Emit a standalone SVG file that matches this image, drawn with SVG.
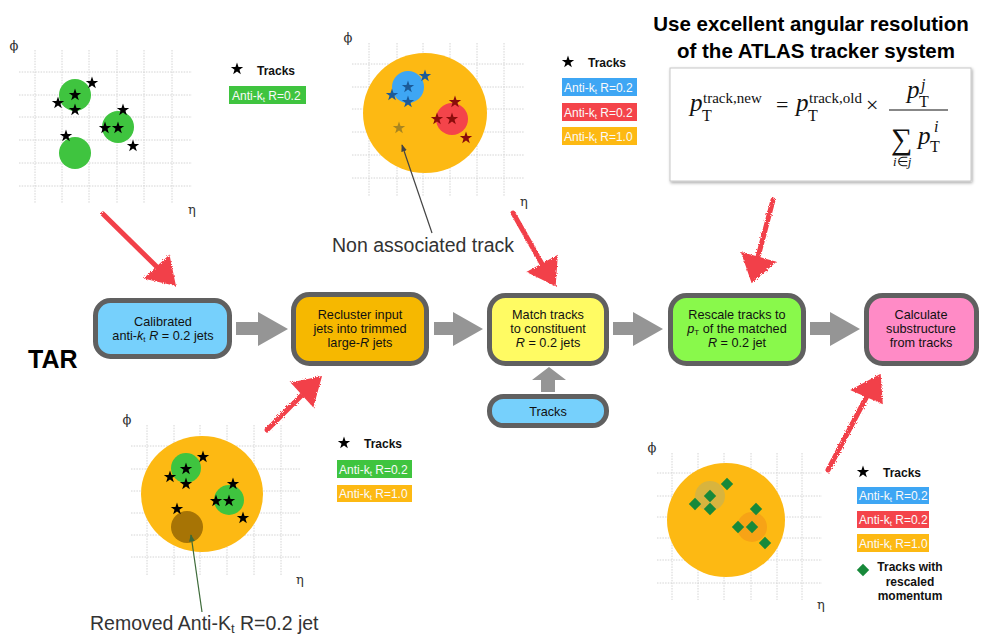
<svg xmlns="http://www.w3.org/2000/svg" width="999" height="637" viewBox="0 0 999 637">
<style>
.grid line{stroke:#d4d4d4;stroke-width:1;stroke-dasharray:1.5 1.2}
.ax{font-family:"DejaVu Serif",serif;font-size:13px;fill:#333}
.box{stroke:#606060;stroke-width:5}
.bt{font-family:"Liberation Sans",Arial,sans-serif;font-size:12.7px;fill:#111;text-anchor:middle}
.lg{font-family:"Liberation Sans",Arial,sans-serif;font-size:12px;font-weight:bold;fill:#111}
.lt{font-family:"Liberation Sans",Arial,sans-serif;font-size:12px;fill:#fafafa}
.gar{fill:#959595}
.red{fill:#f2404a;stroke:#f2404a}
.ann{font-family:"Liberation Sans",Arial,sans-serif;font-size:19.5px;fill:#333}
.fm{font-family:"Liberation Serif","Times New Roman",serif;fill:#111}
</style>
<defs>
<path id="star" d="M0,-6.5 L1.53,-2.1 L6.18,-2.01 L2.47,0.8 L3.82,5.26 L0,2.6 L-3.82,5.26 L-2.47,0.8 L-6.18,-2.01 L-1.53,-2.1Z"/>
<path id="dia" d="M0,-6.2 L6.2,0 L0,6.2 L-6.2,0Z"/>
<filter id="rough" x="-20%" y="-20%" width="140%" height="140%">
<feTurbulence type="fractalNoise" baseFrequency="0.9" numOctaves="2" seed="3"/>
<feDisplacementMap in="SourceGraphic" scale="3.5"/>
</filter>
<filter id="shadow" x="-5%" y="-5%" width="112%" height="115%">
<feDropShadow dx="1" dy="1.5" stdDeviation="1.5" flood-color="#000" flood-opacity="0.35"/>
</filter>
<marker id="ah" viewBox="0 0 10 10" refX="9" refY="5" markerWidth="6" markerHeight="6" orient="auto-start-reverse"><path d="M0,1 L10,5 L0,9Z" fill="context-stroke"/></marker>
</defs>
<rect width="999" height="637" fill="#fff"/>

<!-- Panel 1: top-left -->
<g id="panel-calibrated">
<g class="grid">
<line x1="35" y1="50" x2="35" y2="203"/><line x1="62" y1="50" x2="62" y2="203"/><line x1="89" y1="50" x2="89" y2="203"/><line x1="117" y1="50" x2="117" y2="203"/><line x1="144" y1="50" x2="144" y2="203"/><line x1="172" y1="50" x2="172" y2="203"/>
<line x1="19" y1="72" x2="192" y2="72"/><line x1="19" y1="95" x2="192" y2="95"/><line x1="19" y1="117" x2="192" y2="117"/><line x1="19" y1="140" x2="192" y2="140"/><line x1="19" y1="163" x2="192" y2="163"/><line x1="19" y1="186" x2="192" y2="186"/>
</g>
<text class="ax" x="14" y="50" text-anchor="middle">ϕ</text>
<text class="ax" x="192" y="214" text-anchor="middle">η</text>
<circle cx="75" cy="95" r="16" fill="#3fc43f"/>
<circle cx="118" cy="127" r="16" fill="#3fc43f"/>
<circle cx="75" cy="153" r="16" fill="#3fc43f"/>
<g fill="#000">
<use href="#star" x="92" y="83"/><use href="#star" x="75" y="95"/><use href="#star" x="58" y="103"/><use href="#star" x="75" y="110"/>
<use href="#star" x="123" y="110"/><use href="#star" x="105" y="128"/><use href="#star" x="118" y="128"/><use href="#star" x="133" y="146"/><use href="#star" x="66" y="136"/>
</g>
<use href="#star" x="237" y="69" fill="#000"/>
<text class="lg" x="257" y="75">Tracks</text>
<rect x="229" y="86" width="77" height="18" fill="#3fc43f"/>
<text class="lt" x="232" y="99.5">Anti-k<tspan font-size="8" dy="2">t</tspan><tspan dy="-2"> R=0.2</tspan></text>
</g>

<!-- Panel 2: top-middle -->
<g id="panel-match">
<g class="grid">
<line x1="369" y1="43" x2="369" y2="196"/><line x1="397" y1="43" x2="397" y2="196"/><line x1="423" y1="43" x2="423" y2="196"/><line x1="450" y1="43" x2="450" y2="196"/><line x1="477" y1="43" x2="477" y2="196"/><line x1="504" y1="43" x2="504" y2="196"/>
<line x1="352" y1="64" x2="524" y2="64"/><line x1="352" y1="87" x2="524" y2="87"/><line x1="352" y1="109" x2="524" y2="109"/><line x1="352" y1="132" x2="524" y2="132"/><line x1="352" y1="155" x2="524" y2="155"/><line x1="352" y1="178" x2="524" y2="178"/>
</g>
<text class="ax" x="348" y="42" text-anchor="middle">ϕ</text>
<text class="ax" x="524" y="206" text-anchor="middle">η</text>
<ellipse cx="425" cy="113" rx="62" ry="60" fill="#fdb913"/>
<circle cx="408" cy="87" r="16" fill="#3ea6f4"/>
<circle cx="452" cy="119" r="16" fill="#f4444a"/>
<g fill="#1b5a98"><use href="#star" x="425" y="76"/><use href="#star" x="408" y="87"/><use href="#star" x="392" y="95"/><use href="#star" x="408" y="102"/></g>
<g fill="#8a0c0c"><use href="#star" x="455" y="102"/><use href="#star" x="437" y="119"/><use href="#star" x="452" y="119"/><use href="#star" x="466" y="138"/></g>
<use href="#star" x="399" y="128" fill="#a88520"/>
<line x1="432" y1="233" x2="402" y2="145" stroke="#444" stroke-width="1.2" marker-end="url(#ah)"/>
<text class="ann" x="332" y="252">Non associated track</text>
<use href="#star" x="568" y="62" fill="#000"/>
<text class="lg" x="588" y="67">Tracks</text>
<rect x="562" y="78" width="75" height="18" fill="#3ea6f4"/>
<text class="lt" x="564" y="91.5">Anti-k<tspan font-size="8" dy="2">t</tspan><tspan dy="-2"> R=0.2</tspan></text>
<rect x="562" y="103" width="75" height="18" fill="#f4444a"/>
<text class="lt" x="564" y="116.5">Anti-k<tspan font-size="8" dy="2">t</tspan><tspan dy="-2"> R=0.2</tspan></text>
<rect x="562" y="127" width="75" height="18" fill="#fdb913"/>
<text class="lt" x="564" y="140.5">Anti-k<tspan font-size="8" dy="2">t</tspan><tspan dy="-2"> R=1.0</tspan></text>
</g>

<!-- Formula panel -->
<g id="panel-formula">
<text x="811" y="31" text-anchor="middle" font-family="'Liberation Sans',Arial,sans-serif" font-size="20.5" font-weight="bold" fill="#000">Use excellent angular resolution</text>
<text x="816" y="58" text-anchor="middle" font-family="'Liberation Sans',Arial,sans-serif" font-size="20.5" font-weight="bold" fill="#000">of the ATLAS tracker system</text>
<rect x="670" y="68" width="301" height="113" fill="#fff" stroke="#c8c8c8" stroke-width="1" filter="url(#shadow)"/>
<g class="fm">
<text x="690" y="111" font-size="25" font-style="italic">p</text>
<text x="702" y="121" font-size="16">T</text>
<text x="703" y="103" font-size="15">track,new</text>
<text x="776" y="112" font-size="22">=</text>
<text x="796" y="111" font-size="25" font-style="italic">p</text>
<text x="808" y="121" font-size="16">T</text>
<text x="809" y="103" font-size="15">track,old</text>
<text x="866" y="112" font-size="22">×</text>
<line x1="889" y1="110" x2="948" y2="110" stroke="#111" stroke-width="1.1"/>
<text x="907" y="98" font-size="25" font-style="italic">p</text>
<text x="919" y="107" font-size="16">T</text>
<text x="921" y="90" font-size="16" font-style="italic">j</text>
<text x="891" y="149" font-size="30">∑</text>
<text x="918" y="144" font-size="25" font-style="italic">p</text>
<text x="930" y="152" font-size="16">T</text>
<text x="934" y="132" font-size="16" font-style="italic">i</text>
<text x="893" y="166" font-size="13" font-style="italic">i<tspan font-style="normal">∈</tspan>j</text>
</g>
</g>

<!-- Panel 3: bottom-left -->
<g id="panel-recluster">
<g class="grid">
<line x1="147" y1="425" x2="147" y2="575"/><line x1="174" y1="425" x2="174" y2="575"/><line x1="200" y1="425" x2="200" y2="575"/><line x1="227" y1="425" x2="227" y2="575"/><line x1="254" y1="425" x2="254" y2="575"/><line x1="281" y1="425" x2="281" y2="575"/>
<line x1="131" y1="446" x2="301" y2="446"/><line x1="131" y1="469" x2="301" y2="469"/><line x1="131" y1="491" x2="301" y2="491"/><line x1="131" y1="513" x2="301" y2="513"/><line x1="131" y1="535" x2="301" y2="535"/><line x1="131" y1="557" x2="301" y2="557"/>
</g>
<text class="ax" x="127" y="424" text-anchor="middle">ϕ</text>
<text class="ax" x="300" y="584" text-anchor="middle">η</text>
<ellipse cx="202" cy="494" rx="61" ry="58" fill="#fdb913"/>
<circle cx="186" cy="468" r="15" fill="#3fc43f"/>
<circle cx="229" cy="500" r="15" fill="#3fc43f"/>
<circle cx="187" cy="527" r="16" fill="#a77405"/>
<g fill="#000">
<use href="#star" x="203" y="457"/><use href="#star" x="186" y="469"/><use href="#star" x="170" y="477"/><use href="#star" x="186" y="484"/>
<use href="#star" x="233" y="484"/><use href="#star" x="216" y="501"/><use href="#star" x="229" y="501"/><use href="#star" x="243" y="518"/><use href="#star" x="177" y="509"/>
</g>
<line x1="202" y1="612" x2="191" y2="535" stroke="#3c6a38" stroke-width="1.2" marker-end="url(#ah)"/>
<text class="ann" x="90" y="630">Removed Anti-K<tspan font-size="13" dy="3">t</tspan><tspan dy="-3"> R=0.2 jet</tspan></text>
<use href="#star" x="344" y="443" fill="#000"/>
<text class="lg" x="364" y="448">Tracks</text>
<rect x="337" y="460" width="75" height="18" fill="#3fc43f"/>
<text class="lt" x="339" y="473.5">Anti-k<tspan font-size="8" dy="2">t</tspan><tspan dy="-2"> R=0.2</tspan></text>
<rect x="337" y="485" width="75" height="17" fill="#fdb913"/>
<text class="lt" x="339" y="498">Anti-k<tspan font-size="8" dy="2">t</tspan><tspan dy="-2"> R=1.0</tspan></text>
</g>

<!-- Panel 4: bottom-right -->
<g id="panel-rescaled">
<g class="grid">
<line x1="672" y1="453" x2="672" y2="600"/><line x1="698" y1="453" x2="698" y2="600"/><line x1="724" y1="453" x2="724" y2="600"/><line x1="751" y1="453" x2="751" y2="600"/><line x1="777" y1="453" x2="777" y2="600"/><line x1="802" y1="453" x2="802" y2="600"/>
<line x1="657" y1="473" x2="822" y2="473"/><line x1="657" y1="496" x2="822" y2="496"/><line x1="657" y1="517" x2="822" y2="517"/><line x1="657" y1="538" x2="822" y2="538"/><line x1="657" y1="560" x2="822" y2="560"/><line x1="657" y1="583" x2="822" y2="583"/>
</g>
<text class="ax" x="652" y="452" text-anchor="middle">ϕ</text>
<text class="ax" x="821" y="609" text-anchor="middle">η</text>
<ellipse cx="726" cy="520" rx="59" ry="57" fill="#fdb913"/>
<circle cx="710" cy="496" r="15" fill="#d8b43e"/>
<circle cx="752" cy="527" r="15" fill="#f7a316"/>
<g fill="#17893a">
<use href="#dia" x="727" y="484"/><use href="#dia" x="710" y="496"/><use href="#dia" x="695" y="504"/><use href="#dia" x="710" y="509"/>
<use href="#dia" x="756" y="509"/><use href="#dia" x="738" y="527"/><use href="#dia" x="752" y="527"/><use href="#dia" x="765" y="543"/>
</g>
<use href="#star" x="863" y="472" fill="#000"/>
<text class="lg" x="883" y="477">Tracks</text>
<rect x="857" y="487" width="72" height="17" fill="#3ea6f4"/>
<text class="lt" x="859" y="500">Anti-k<tspan font-size="8" dy="2">t</tspan><tspan dy="-2"> R=0.2</tspan></text>
<rect x="857" y="511" width="72" height="17" fill="#f4444a"/>
<text class="lt" x="859" y="524">Anti-k<tspan font-size="8" dy="2">t</tspan><tspan dy="-2"> R=0.2</tspan></text>
<rect x="857" y="534" width="72" height="18" fill="#fdb913"/>
<text class="lt" x="859" y="547.5">Anti-k<tspan font-size="8" dy="2">t</tspan><tspan dy="-2"> R=1.0</tspan></text>
<use href="#dia" x="863" y="570" fill="#17893a"/>
<text class="lg" x="910" y="571" text-anchor="middle">Tracks with</text>
<text class="lg" x="910" y="586" text-anchor="middle">rescaled</text>
<text class="lg" x="910" y="600" text-anchor="middle">momentum</text>
</g>

<text id="tar-label" x="28" y="368" font-family="'Liberation Sans',Arial,sans-serif" font-size="25" font-weight="bold" fill="#000">TAR</text>

<!-- Flow nodes -->
<g id="node-calibrated">
<rect class="box" x="95.5" y="300.5" width="134" height="56" rx="15" fill="#76d0fc"/>
<text class="bt" x="163" y="326">Calibrated</text>
<text class="bt" x="163" y="340">anti-<tspan font-style="italic">k</tspan><tspan font-size="8" dy="2">t</tspan><tspan dy="-2"> </tspan><tspan font-style="italic">R</tspan> = 0.2 jets</text>
</g>
<g id="node-recluster">
<rect class="box" x="293.5" y="294.5" width="133" height="69" rx="16" fill="#f6b800"/>
<text class="bt" x="360" y="319">Recluster input</text>
<text class="bt" x="360" y="333">jets into trimmed</text>
<text class="bt" x="360" y="347">large-<tspan font-style="italic">R</tspan> jets</text>
</g>
<g id="node-match">
<rect class="box" x="489.5" y="295.5" width="117" height="68" rx="16" fill="#fffb63"/>
<text class="bt" x="548" y="319">Match tracks</text>
<text class="bt" x="548" y="333">to constituent</text>
<text class="bt" x="548" y="347"><tspan font-style="italic">R</tspan> = 0.2 jets</text>
</g>
<g id="node-rescale">
<rect class="box" x="670.5" y="295.5" width="133" height="68" rx="16" fill="#89f94b"/>
<text class="bt" x="737" y="319">Rescale tracks to</text>
<text class="bt" x="737" y="333"><tspan font-style="italic">p</tspan><tspan font-size="8" dy="2">T</tspan><tspan dy="-2"> of the matched</tspan></text>
<text class="bt" x="737" y="347"><tspan font-style="italic">R</tspan> = 0.2 jet</text>
</g>
<g id="node-substructure">
<rect class="box" x="866.5" y="295.5" width="110" height="68" rx="16" fill="#ff8bc6"/>
<text class="bt" x="921" y="319">Calculate</text>
<text class="bt" x="921" y="333">substructure</text>
<text class="bt" x="921" y="347">from tracks</text>
</g>
<g id="node-tracks">
<rect class="box" x="489.5" y="396.5" width="117" height="29" rx="14" fill="#76d0fc"/>
<text class="bt" x="548" y="416">Tracks</text>
</g>

<!-- Connectors -->
<g id="connectors">
<polygon class="gar" points="236,322 258,322 258,312 288,329 258,346 258,335 236,335"/>
<polygon class="gar" points="434,322 453,322 453,312 483,329 453,346 453,335 434,335"/>
<polygon class="gar" points="613,322 633,322 633,312 663,329 633,346 633,335 613,335"/>
<polygon class="gar" points="810,322 830,322 830,312 860,329 830,346 830,335 810,335"/>
<polygon class="gar" points="541,392 541,380 532,380 549,367 566,380 555,380 555,392"/>
<g filter="url(#rough)">
<line class="red" x1="103" y1="214" x2="157" y2="267" stroke-width="5" stroke-linecap="round"/>
<polygon class="red" stroke-width="1.5" points="169,256 145,278 175,285"/>
<line class="red" x1="267" y1="430" x2="302" y2="395" stroke-width="5" stroke-linecap="round"/>
<polygon class="red" stroke-width="1.5" points="292,383 321,377 313,406"/>
<line class="red" x1="513" y1="213" x2="542" y2="264" stroke-width="5" stroke-linecap="round"/>
<polygon class="red" stroke-width="1.5" points="528,272 557,256 555,285"/>
<line class="red" x1="773" y1="200" x2="758" y2="257" stroke-width="5" stroke-linecap="round"/>
<polygon class="red" stroke-width="1.5" points="742,253 775,262 752,282"/>
<line class="red" x1="828" y1="470" x2="867" y2="396" stroke-width="5" stroke-linecap="round"/>
<polygon class="red" stroke-width="1.5" points="852,390 882,403 880,375"/>
</g>
</g>
</svg>
